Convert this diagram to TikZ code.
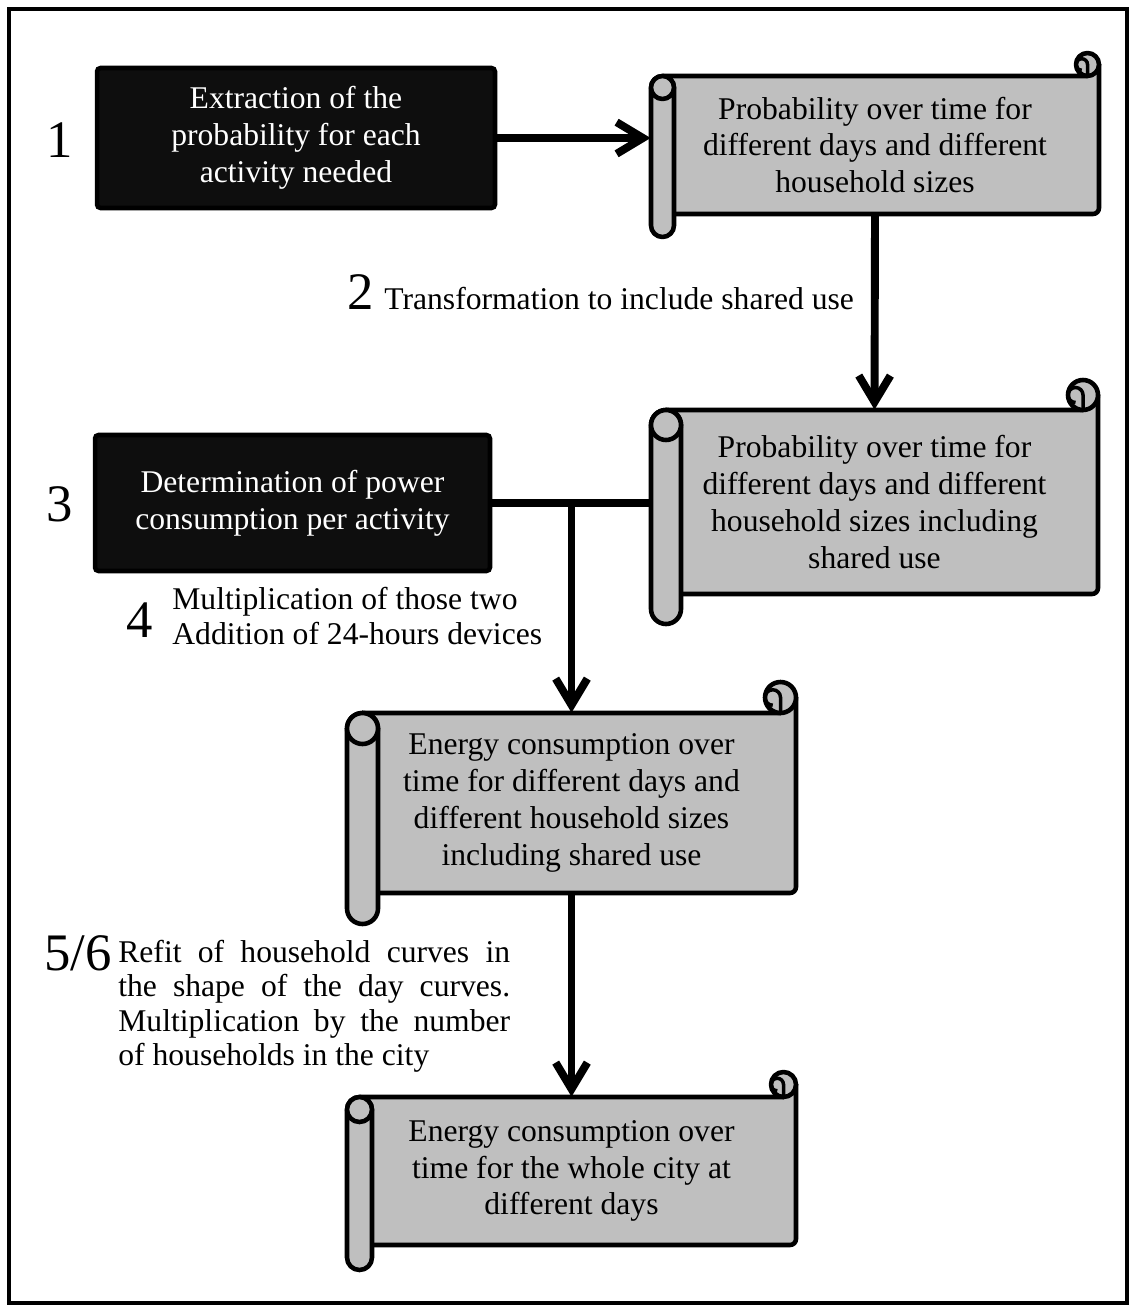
\documentclass[tikz,border=0pt]{standalone}
\usepackage{fontspec}
\setmainfont{Liberation Serif}
\usetikzlibrary{arrows.meta}

\definecolor{scrollgray}{RGB}{191,191,191}
\definecolor{boxblack}{RGB}{14,14,14}

\tikzstyle{scroll part} = [draw, line width=2.6pt, fill=scrollgray, line join=round]
\tikzstyle{dark box} = [draw=black, line width=2.6pt, fill=boxblack, text=white, rounded corners=2pt, align=center, inner sep=0pt, font=\fontsize{18}{21}\selectfont]
\tikzstyle{scroll text} = [align=center, inner sep=0pt, font=\fontsize{18}{21}\selectfont]
\tikzstyle{side note} = [inner sep=0pt, font=\fontsize{18}{19.5}\selectfont]
\tikzstyle{stage} = [inner sep=0pt, font=\fontsize{30}{30}\selectfont]
\tikzstyle{link} = [draw, line width=4.5pt]
\tikzstyle{flow} = [link, -{Straight Barb[length=15pt,width=18pt]}]

% left, body top, right, body bottom, roll size (pixel units)
\newcommand{\scrollshape}[5]{%
  \pgfmathsetmacro{\rollhalf}{#5/2}
  \path[scroll part] ({#1+\rollhalf},#2) -- ({#3-\rollhalf},#2) -- ({#3-\rollhalf},{#2-\rollhalf}) -- (#3,{#2-\rollhalf})
      -- (#3,{#4-6}) arc[start angle=0,end angle=90,radius=6] -- ({#1+\rollhalf},#4) -- cycle;
  \path[scroll part] ({#3-\rollhalf},{#2-\rollhalf}) circle (\rollhalf);
  \draw[line width=2pt] ({#3-\rollhalf},#2) -- ({#3-\rollhalf},{#2-\rollhalf}) arc[start angle=0,delta angle=-270,radius=\rollhalf/2];
  \path[scroll part] (#1,{#2+\rollhalf}) -- (#1,{#4+\rollhalf}) arc[start angle=180,end angle=0,radius=\rollhalf]
      -- ({#1+#5},{#2+\rollhalf}) arc[start angle=0,end angle=-180,radius=\rollhalf] -- cycle;
  \path[scroll part] ({#1+\rollhalf},{#2+\rollhalf}) circle (\rollhalf);
}

\begin{document}
\begin{tikzpicture}[x=0.02cm, y=-0.02cm]
       \useasboundingbox (0,0) rectangle (1135,1311);
       \draw[line width=2.8pt] (9,9) rectangle (1127,1303);

       \foreach \name/\xl/\yt/\xr/\yb/\roll/\txt in {
           prob/651/76/1099/214/23/{Probability over time for\\different days and different\\household sizes},
           probshared/651/410/1098/594/30/{Probability over time for\\different days and different\\household sizes including\\shared use},
           energy/347/713/796/893/31/{Energy consumption over\\time for different days and\\different household sizes\\including shared use},
           city/347/1097/796/1245/25/{Energy consumption over\\time for the whole city at\\different days}} {
           \scrollshape{\xl}{\yt}{\xr}{\yb}{\roll}
           \node[scroll text, minimum width={(\xr-\xl)*0.02cm}, minimum height={(\yb-\yt)*0.02cm}] (\name) at ({(\xl+\xr)/2},{(\yt+\yb)/2}) {\txt};
       }

       \node[dark box, minimum width=7.96cm, minimum height=2.8cm] (extract) at (296,138) {Extraction of the\\probability for each\\activity needed};
       \node[dark box, minimum width=7.9cm, minimum height=2.72cm] (power) at (292.5,503) {Determination of power\\consumption per activity};

       \node[stage, anchor=base] (n1) at (60,158) {1};
       \node[stage, anchor=base east] (n2) at (374,309) {2};
       \node[stage, anchor=base] (n3) at (60,521) {3};
       \node[stage, anchor=base] (n4) at (140,637) {4};
       \node[stage, anchor=base east] (n56) at (112,970) {5/6};

       \node[side note, anchor=base west] (t2) at (384,309) {Transformation to include shared use};
       \node[side note, anchor=west, align=left] (t4) at (172,616) {Multiplication of those two\\Addition of 24-hours devices};
       \node[side note, anchor=north west, text width=223pt, align=justify] (t56) at (118,940)
           {Refit of household curves in\linebreak the shape of the day curves.\linebreak Multiplication by the number\linebreak of households in the city};

       \draw[flow] (extract.east) -- (extract.east -| prob.west);
       \draw[flow] (prob.south) -- (probshared.north);
       \draw[link] (power.east) -- (power.east -| probshared.west);
       \draw[flow] (energy.north |- power.east) -- (energy.north);
       \draw[flow] (energy.south) -- (city.north);
\end{tikzpicture}
\end{document}
